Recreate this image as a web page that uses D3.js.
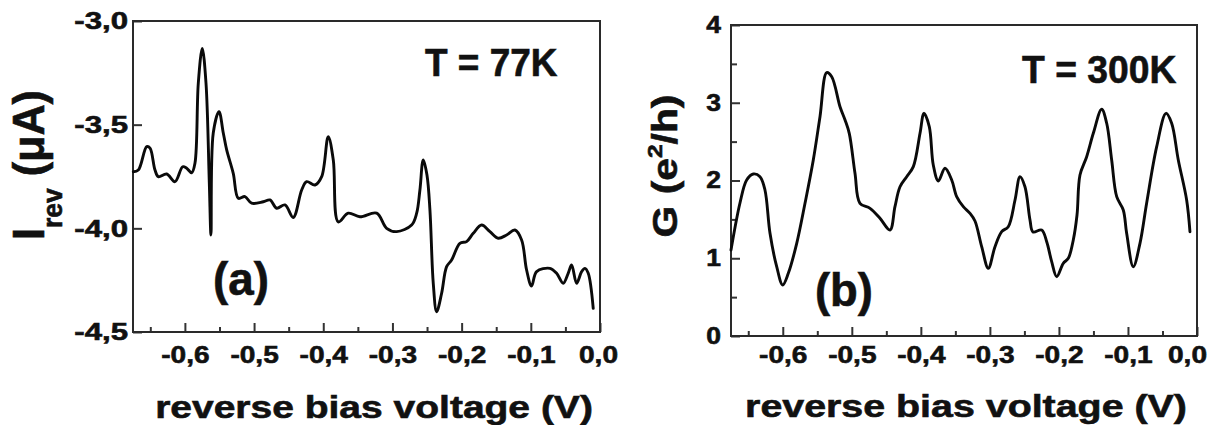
<!DOCTYPE html>
<html><head><meta charset="utf-8">
<script src="https://cdn.jsdelivr.net/npm/d3@7"></script>
<style>
body{margin:0;background:#fff}
svg{display:block;background:#fff}
text{font-family:"Liberation Sans",Arial,Helvetica,sans-serif;font-weight:bold;fill:#111;stroke:#111;stroke-width:0.6px}
</style>
</head><body>
<svg id="chart" width="1216" height="425"></svg>
<script>
// ---- data ----
const xTicks = [-0.6, -0.5, -0.4, -0.3, -0.2, -0.1, 0.0];
const xMinorTicks = [-0.65, -0.55, -0.45, -0.35, -0.25, -0.15, -0.05];
const xTickLabels = ["-0,6", "-0,5", "-0,4", "-0,3", "-0,2", "-0,1", "0,0"];
const leftYTicks = [-3.0, -3.5, -4.0, -4.5];
const leftYTickLabels = ["-3,0", "-3,5", "-4,0", "-4,5"];
const rightYTicks = [0, 1, 2, 3, 4];
const rightYMinorTicks = [0.5, 1.5, 2.5, 3.5];
const rightYTickLabels = ["0", "1", "2", "3", "4"];

// panel (a): reverse current at 77 K
const biasA = [-0.6746,-0.6673,-0.6552,-0.6504,-0.6432,-0.6384,-0.6263,-0.6143,-0.6032,-0.5974,
  -0.5902,-0.5854,-0.5806,-0.5749,-0.5695,-0.5647,-0.5623,-0.5590,-0.5507,-0.5445,
  -0.5396,-0.5301,-0.5228,-0.5132,-0.5035,-0.4867,-0.4770,-0.4673,-0.4553,-0.4434,
  -0.4312,-0.4240,-0.4120,-0.4023,-0.3928,-0.3855,-0.3783,-0.3639,-0.3470,-0.3228,
  -0.3084,-0.2939,-0.2723,-0.2650,-0.2603,-0.2555,-0.2501,-0.2458,-0.2410,-0.2361,
  -0.2289,-0.2217,-0.2145,-0.2025,-0.1928,-0.1832,-0.1711,-0.1591,-0.1471,-0.1350,
  -0.1230,-0.1133,-0.1061,-0.0989,-0.0916,-0.0724,-0.0627,-0.0532,-0.0460,-0.0410,
  -0.0338,-0.0266,-0.0218,-0.0170,-0.0098];
const currentA = [-3.727,-3.719,-3.606,-3.613,-3.719,-3.751,-3.738,-3.775,-3.703,-3.710,
  -3.732,-3.685,-3.299,-3.132,-3.299,-3.781,-4.032,-3.540,-3.437,-3.540,
  -3.622,-3.735,-3.855,-3.847,-3.879,-3.872,-3.863,-3.903,-3.887,-3.948,
  -3.815,-3.775,-3.791,-3.751,-3.558,-3.670,-3.969,-3.927,-3.944,-3.927,
  -4.000,-4.016,-3.984,-3.927,-3.815,-3.670,-3.743,-3.912,-4.265,-4.402,
  -4.313,-4.185,-4.153,-4.072,-4.064,-4.024,-3.984,-4.016,-4.048,-4.032,
  -4.008,-4.056,-4.201,-4.278,-4.209,-4.193,-4.217,-4.265,-4.217,-4.177,
  -4.265,-4.209,-4.193,-4.217,-4.386];

// panel (b): conductance at 300 K
const biasB = [-0.675,-0.662,-0.6523,-0.6427,-0.6330,-0.6258,-0.6185,-0.6088,-0.6001,-0.5920,
  -0.5798,-0.5678,-0.5558,-0.5461,-0.5364,-0.5291,-0.5171,-0.5098,-0.5037,-0.4954,
  -0.4882,-0.4736,-0.4592,-0.4447,-0.4375,-0.4302,-0.4205,-0.4109,-0.4012,-0.3955,
  -0.3878,-0.3820,-0.3747,-0.3650,-0.3553,-0.3481,-0.3385,-0.3288,-0.3216,-0.3119,
  -0.3023,-0.2926,-0.2829,-0.2734,-0.2636,-0.2564,-0.2492,-0.2419,-0.2376,-0.2250,
  -0.2177,-0.2105,-0.2032,-0.1937,-0.1864,-0.1792,-0.1738,-0.1695,-0.1598,-0.1502,
  -0.1381,-0.1308,-0.1236,-0.1163,-0.1068,-0.1019,-0.0923,-0.0826,-0.0729,-0.0584,
  -0.0449,-0.0367,-0.0271,-0.0150,-0.0102];
const conductanceB = [1.106,1.711,2.006,2.084,2.049,1.878,1.321,0.891,0.656,0.806,
  1.192,1.707,2.264,2.821,3.387,3.335,2.949,2.778,2.607,2.093,
  1.707,1.642,1.514,1.363,1.663,1.920,2.049,2.178,2.607,2.864,
  2.692,2.199,1.994,2.157,2.006,1.792,1.663,1.578,1.479,1.149,
  0.871,1.149,1.342,1.406,1.749,2.049,1.920,1.492,1.338,1.363,
  1.213,0.956,0.763,0.935,0.999,1.235,1.556,2.071,2.306,2.607,
  2.916,2.736,2.264,1.792,1.621,1.321,0.891,1.192,1.711,2.435,
  2.864,2.736,2.264,1.749,1.341];

// ---- drawing ----
const svg = d3.select("#chart");

function fitText(parent, opt) {
  const g = parent.append("g")
    .attr("transform", `translate(${opt.x},${opt.y})` + (opt.rotate ? ` rotate(${opt.rotate})` : ""));
  const t = g.append("text").attr("text-anchor", opt.anchor || "start");
  opt.parts.forEach(p => {
    t.append("tspan").text(p.t).style("font-size", p.size + "px").attr("dy", p.dy || 0);
  });
  const w = t.node().getBBox().width;
  if (opt.width && w > 0) t.attr("transform", `scale(${opt.width / w},1)`);
  return g;
}

function panel(cfg) {
  const x = d3.scaleLinear().domain([-0.675, 0]).range([cfg.x0, cfg.x1]);
  const y = d3.scaleLinear().domain(cfg.yDomain).range([cfg.y1, cfg.y0]);
  const g = svg.append("g");

  const xa = g.append("g").attr("transform", `translate(0,${cfg.y1})`)
    .call(d3.axisBottom(x).tickValues(xTicks).tickSizeInner(-9).tickSizeOuter(0)
      .tickPadding(cfg.xPad).tickFormat((d, i) => xTickLabels[i]));
  xa.select(".domain").remove();
  xa.selectAll(".tick line").attr("stroke", "#333").attr("stroke-width", 2);
  xa.selectAll(".tick text").style("font-size", "24px").attr("fill", "#111")
    .attr("transform", (d, i) => (i === xTicks.length - 1 ? `translate(${cfg.lastDx},0) ` : "") + "scale(1.17,1)");
  const xm = g.append("g").attr("transform", `translate(0,${cfg.y1})`)
    .call(d3.axisBottom(x).tickValues(xMinorTicks).tickSizeInner(-5).tickSizeOuter(0).tickFormat(""));
  xm.select(".domain").remove();
  xm.selectAll(".tick line").attr("stroke", "#333").attr("stroke-width", 2);

  const ya = g.append("g").attr("transform", `translate(${cfg.x0},0)`)
    .call(d3.axisLeft(y).tickValues(cfg.yTicks).tickSizeInner(-9).tickSizeOuter(0)
      .tickPadding(0).tickFormat((d, i) => cfg.yLabels[i]));
  ya.select(".domain").remove();
  ya.selectAll(".tick line").attr("stroke", "#333").attr("stroke-width", 2);
  ya.selectAll(".tick text").style("font-size", cfg.ySize + "px").attr("fill", "#111")
    .attr("x", 0).attr("transform", `translate(${-cfg.yPad},0) scale(${cfg.ySx},1)`);
  if (cfg.yMinor) {
    const ym = g.append("g").attr("transform", `translate(${cfg.x0},0)`)
      .call(d3.axisLeft(y).tickValues(cfg.yMinor).tickSizeInner(-6).tickSizeOuter(0).tickFormat(""));
    ym.select(".domain").remove();
    ym.selectAll(".tick line").attr("stroke", "#333").attr("stroke-width", 2);
  }

  g.append("rect").attr("x", cfg.x0).attr("y", cfg.y0)
    .attr("width", cfg.x1 - cfg.x0).attr("height", cfg.y1 - cfg.y0)
    .attr("fill", "none").attr("stroke", "#2a2a2a").attr("stroke-width", 2);

  const pts = cfg.xs.map((v, i) => [v, cfg.ys[i]]);
  g.append("path").datum(pts)
    .attr("d", d3.line().x(d => x(d[0])).y(d => y(d[1])).curve(d3.curveCatmullRom.alpha(0.5)))
    .attr("fill", "none").attr("stroke", "#0a0a0a").attr("stroke-width", 2.9)
    .attr("stroke-linejoin", "round").attr("stroke-linecap", "round");
  return g;
}

panel({x0: 133, x1: 600, y0: 21, y1: 332, yDomain: [-4.5, -3.0],
  yTicks: leftYTicks, yLabels: leftYTickLabels, ySize: 24, ySx: 1.3, yPad: 5, xPad: 14, lastDx: -2,
  xs: biasA, ys: currentA});
panel({x0: 731, x1: 1197, y0: 25, y1: 336, yDomain: [0, 4],
  yTicks: rightYTicks, yLabels: rightYTickLabels, yMinor: rightYMinorTicks,
  ySize: 23, ySx: 1.15, yPad: 10, xPad: 10, lastDx: -10, xs: biasB, ys: conductanceB});

// annotations
fitText(svg, {x: 425, y: 76, parts: [{t: "T = 77K", size: 38}], width: 133});
fitText(svg, {x: 1022, y: 83, parts: [{t: "T = 300K", size: 38}], width: 155});
fitText(svg, {x: 213, y: 295, parts: [{t: "(a)", size: 46}], width: 56});
fitText(svg, {x: 815, y: 306, parts: [{t: "(b)", size: 46}], width: 58});

// axis titles
fitText(svg, {x: 374, y: 418, anchor: "middle", parts: [{t: "reverse bias voltage (V)", size: 32}], width: 438});
fitText(svg, {x: 966, y: 417, anchor: "middle", parts: [{t: "reverse bias voltage (V)", size: 32}], width: 442});
fitText(svg, {x: 44, y: 165, anchor: "middle", rotate: -90,
  parts: [{t: "I", size: 44}, {t: "rev", size: 27, dy: 18}, {t: " (\u03bcA)", size: 44, dy: -18}], width: 150});
fitText(svg, {x: 677, y: 166, anchor: "middle", rotate: -90,
  parts: [{t: "G (e", size: 35}, {t: "2", size: 21, dy: -15}, {t: "/h)", size: 35, dy: 15}], width: 143});
</script>
</body></html>
